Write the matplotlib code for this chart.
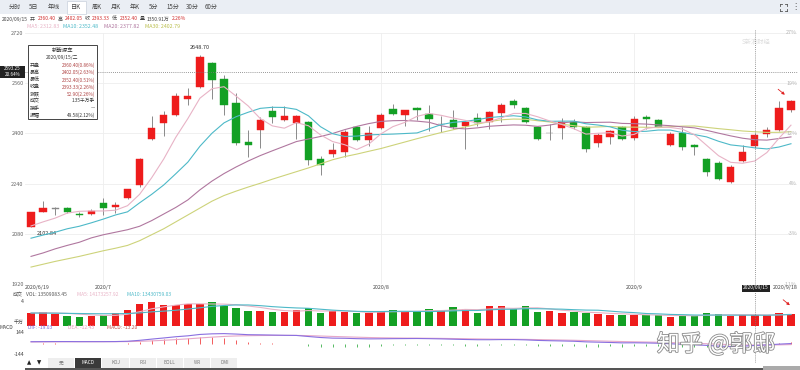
import matplotlib
matplotlib.use('Agg')
import matplotlib.pyplot as plt
import numpy as np
import pandas as pd
from matplotlib.patches import Rectangle, FancyArrowPatch
import matplotlib.patheffects as pe

plt.rcParams['font.family'] = ['Noto Sans CJK SC', 'DejaVu Sans']

# ---------------- data ----------------
dates = (['2020/6/%d' % d for d in [19, 22, 23, 24, 29, 30]] +
         ['2020/7/%d' % d for d in [1, 2, 3, 6, 7, 8, 9, 10, 13, 14, 15, 16, 17, 20, 21, 22, 23, 24, 27, 28, 29, 30, 31]] +
         ['2020/8/%d' % d for d in [3, 4, 5, 6, 7, 10, 11, 12, 13, 14, 17, 18, 19, 20, 21, 24, 25, 26, 27, 28, 31]] +
         ['2020/9/%d' % d for d in [1, 2, 3, 4, 7, 8, 9, 10, 11, 14, 15, 16, 17, 18]])

opens = [2103, 2150, 2160, 2162, 2143, 2143, 2177, 2164, 2193, 2236,
         2381, 2434, 2460, 2510, 2548, 2624, 2573, 2497, 2372, 2410,
         2471, 2444, 2434, 2436, 2317, 2334, 2341, 2420, 2378, 2418,
         2479, 2459, 2482, 2463, 2430, 2444, 2425, 2450, 2437, 2465,
         2502, 2481, 2421, 2400, 2418, 2436, 2420, 2370, 2388, 2420,
         2384, 2453, 2442, 2363, 2402, 2363, 2317, 2305, 2245, 2311,
         2360.40, 2398, 2410, 2476]
highs = [2150, 2183, 2166, 2165, 2148, 2158, 2193, 2180, 2224, 2323,
         2455, 2470, 2530, 2545, 2648.70, 2628, 2587, 2530, 2410, 2453,
         2486, 2488, 2460, 2440, 2328, 2368, 2410, 2422, 2423, 2465,
         2494, 2476, 2485, 2490, 2457, 2476, 2440, 2466, 2470, 2496,
         2511, 2483, 2424, 2431, 2450, 2446, 2425, 2402, 2412, 2424,
         2457, 2458, 2446, 2405, 2420, 2365, 2323, 2312, 2298, 2362,
         2402.05, 2420, 2502, 2506]
lows = [2102.84, 2148, 2140, 2147, 2134, 2140, 2140, 2145, 2190, 2230,
        2378, 2391, 2455, 2490, 2545, 2510, 2460, 2362, 2326, 2355,
        2434, 2440, 2383, 2300, 2267, 2326, 2326, 2377, 2360, 2413,
        2460, 2423, 2442, 2407, 2404, 2413, 2349, 2424, 2413, 2436,
        2480, 2432, 2378, 2378, 2381, 2413, 2340, 2358, 2365, 2380,
        2380, 2415, 2419, 2360, 2346, 2330, 2264, 2250, 2243, 2309,
        2352.40, 2390, 2408, 2467]
closes = [2148, 2161, 2160, 2150, 2139, 2154, 2161, 2172, 2222, 2320,
          2418, 2460, 2518, 2520, 2645, 2569, 2492, 2368, 2364, 2444,
          2452, 2455, 2457, 2314, 2298, 2346, 2405, 2380, 2400, 2460,
          2463, 2473, 2476, 2446, 2430, 2420, 2436, 2434, 2467, 2492,
          2489, 2436, 2381, 2400, 2436, 2421, 2351, 2394, 2409, 2383,
          2447, 2445, 2421, 2399, 2356, 2357, 2278, 2254, 2294, 2341,
          2393.33, 2412, 2481, 2504]
# volume in 千万手
volumes = [1.70, 1.77, 1.57, 1.27, 1.19, 1.23, 1.44, 1.61, 1.99, 2.75,
           3.09, 2.66, 2.71, 2.78, 2.78, 3.00, 2.58, 2.33, 1.95, 1.90,
           1.82, 1.73, 1.99, 2.33, 1.61, 1.86, 1.73, 1.65, 1.70, 1.90,
           2.08, 1.77, 1.86, 2.11, 1.95, 2.37, 2.20, 1.70, 2.53, 2.53,
           2.20, 2.49, 1.77, 1.86, 1.65, 1.73, 1.70, 1.52, 1.39, 1.39,
           1.44, 1.35, 1.35, 1.14, 1.35, 1.27, 1.65, 1.57, 1.23, 1.39,
           1.35, 1.39, 1.70, 1.57]
ma5_head = [2105, 2118, 2130, 2146]
ma10_head = [2066, 2076, 2085, 2096, 2104, 2115, 2127, 2140, 2150]
ma20_head = [2008, 2019, 2032, 2043, 2053, 2067, 2077, 2085, 2093, 2104,
             2122, 2143, 2164, 2188, 2220, 2248, 2272, 2293, 2312]
ma30_head = [1974, 1983, 1992, 2000, 2008, 2017, 2026, 2034, 2043, 2058,
             2077, 2096, 2118, 2140, 2162, 2184, 2202, 2216, 2229, 2241,
             2254, 2266, 2278, 2290, 2303, 2316, 2326, 2334, 2343]
vol_ma5_head = [1.66, 1.68, 1.66, 1.60]
vol_ma10_head = [1.64, 1.63, 1.62, 1.60, 1.58, 1.56, 1.55, 1.56, 1.58]
dif = [30, 31, 32, 32, 31, 31, 31, 32, 36,
       48, 64, 79, 95, 107, 125, 133, 136,
       130, 122, 120, 117, 114, 112, 98, 85,
       77, 75, 70, 67, 68, 70, 71, 72,
       70, 67, 63, 59, 56, 56, 58, 58,
       54, 47, 43, 40,
       36, 28, 24, 20, 15, 16, 14, 10, 3, -4, -10, -18, -28, -33, -29, -19.03, -12, -2, 6]
dea_start = 26

price_ticks = [1920, 2080, 2240, 2400, 2560, 2720]
pct_labels = ['-11%', '-3%', '4%', '12%', '19%', '27%']
month_ticks = {6: '2020/7', 29: '2020/8', 50: '2020/9'}
cursor_idx = 60

# ---------------- derived ----------------
n = len(closes)
xs = np.arange(n)
cs = pd.Series(closes, dtype=float)
def ma(series, w, head):
    m = series.rolling(w).mean().to_numpy()
    m[:len(head)] = head
    return m
ma5 = ma(cs, 5, ma5_head)
ma10 = ma(cs, 10, ma10_head)
ma20 = ma(cs, 20, ma20_head)
ma30 = ma(cs, 30, ma30_head)
vs = pd.Series(volumes, dtype=float)
vma5 = ma(vs, 5, vol_ma5_head)
vma10 = ma(vs, 10, vol_ma10_head)
dea = []
d = dea_start
for v in dif:
    d = d * 0.8 + v * 0.2
    dea.append(d)
dea = np.array(dea)
hist = 2 * (np.array(dif) - dea)

RED = '#ee1c1c'
GREEN = '#13a024'
C_MA5 = '#e8b3c6'
C_MA10 = '#4db9c8'
C_MA20 = '#b0779f'
C_MA30 = '#cdd37a'

W, H = 800, 370
fig = plt.figure(figsize=(8, 3.7), dpi=100)
fig.patch.set_facecolor('white')
renderer = fig.canvas.get_renderer()

def add_ax(x0, y0, x1, y1):
    return fig.add_axes([x0 / W, 1 - y1 / H, (x1 - x0) / W, (y1 - y0) / H])
def T(x, y, s, **kw):
    kw.setdefault('fontsize', 4.3)
    kw.setdefault('va', 'center')
    return fig.text(x / W, 1 - y / H, s, **kw)
def R(x0, y0, x1, y1, **kw):
    r = Rectangle((x0 / W, 1 - y1 / H), (x1 - x0) / W, (y1 - y0) / H, transform=fig.transFigure, **kw)
    fig.patches.append(r)
    return r
def L(x0, y0, x1, y1, **kw):
    fig.add_artist(plt.Line2D([x0 / W, x1 / W], [1 - y0 / H, 1 - y1 / H], transform=fig.transFigure, **kw))
def seq(x, y, parts, fs, gap):
    for s, col in parts:
        t = T(x, y, s, ha='left', fontsize=fs, color=col)
        x += t.get_window_extent(renderer=renderer).width + gap

# ---------------- price panel ----------------
ax = add_ax(25, 33, 797, 284)
ax.set_xlim(-0.5, n - 0.5)
ax.set_ylim(price_ticks[0], price_ticks[-1])
for s in ax.spines.values():
    s.set_visible(False)
ax.set_xticks([])
ax.set_yticks(price_ticks)
ax.set_yticklabels([str(t) for t in price_ticks])
ax.tick_params(axis='y', length=0, labelsize=4.0, pad=1, colors='#666666')
for t in price_ticks:
    ax.axhline(t, color='#eeeeee', lw=0.6, zorder=0)
for i in month_ticks:
    ax.axvline(i, color='#eeeeee', lw=0.6, zorder=0)

o = np.array(opens); c = np.array(closes); h = np.array(highs); l = np.array(lows)
cols = [RED if cc > oo else (GREEN if cc < oo else '#888888') for oo, cc in zip(o, c)]
ax.vlines(xs, l, h, color='#8a8a8a', lw=0.7, zorder=2)
body_h = np.maximum(np.abs(c - o), 1.5)
ax.bar(xs, body_h, bottom=np.minimum(o, c), width=0.6, color=cols, edgecolor=cols, lw=0.3, zorder=3)

for m, col in [(ma30, C_MA30), (ma20, C_MA20), (ma10, C_MA10), (ma5, C_MA5)]:
    ax.plot(xs, m, color=col, lw=0.8, zorder=4)

imax = int(np.argmax(h)); imin = int(np.argmin(l))
ax.annotate('%.2f' % h[imax], (imax, h[imax]), xytext=(0, 4), textcoords='offset points',
            ha='center', va='bottom', fontsize=4.0, color='#333333')
ax.annotate('%.2f' % l[imin], (imin, l[imin]), xytext=(4, -3), textcoords='offset points',
            ha='left', va='top', fontsize=4.0, color='#333333')

# crosshair
cx = 31.03 + 12.06 * cursor_idx
L(cx, 30, cx, 362, color='#777777', lw=0.6, ls=(0, (1, 1.5)), zorder=10)
L(25, 72, 797, 72, color='#777777', lw=0.6, ls=(0, (1, 1.5)), zorder=10)

# right percent labels
for t, lab in zip(price_ticks, pct_labels):
    yy = 33 + (price_ticks[-1] - t) / (price_ticks[-1] - price_ticks[0]) * 251
    T(797, yy, lab, ha='right', color='#b5b5b5', fontsize=3.8)

# ---------------- volume panel ----------------
axv = add_ax(25, 294, 797, 326)
axv.set_xlim(-0.5, n - 0.5)
axv.set_ylim(0, 4.05)
axv.axis('off')
vcols = [RED if cc >= oo else GREEN for oo, cc in zip(o, c)]
axv.bar(xs, volumes, width=0.62, color=vcols, zorder=2)
axv.plot(xs, vma5, color=C_MA5, lw=0.8, zorder=3)
axv.plot(xs, vma10, color=C_MA10, lw=0.8, zorder=3)

# ---------------- MACD panel ----------------
axm = add_ax(25, 333, 797, 355)
axm.set_xlim(-0.5, n - 0.5)
axm.set_ylim(-144, 144)
axm.axis('off')
axm.vlines(xs, 0, hist, color=[RED if v > 0 else GREEN for v in hist], lw=0.5)
axm.plot(xs, dea, color='#e6a8c8', lw=0.8)
axm.plot(xs, dif, color='#8a6fe0', lw=0.8)

# ---------------- toolbar ----------------
R(0, 0, 800, 14, facecolor='#eaeef4', edgecolor='none', zorder=0)
R(67, 0.5, 86, 14, facecolor='white', edgecolor='#c8d0dc', lw=0.5, zorder=1)
tabs = [('分时', 15), ('5日', 34), ('年线', 54), ('日K', 76), ('周K', 97), ('月K', 116),
        ('年K', 135), ('5分', 154), ('15分', 173), ('30分', 192), ('60分', 211)]
for s, x in tabs:
    T(x, 7, s, ha='center', fontsize=4.4, color='#444444')
# fullscreen icon (four corner marks) and menu dots
ic = '#555555'
for sx in (-1, 1):
    for sy in (-1, 1):
        x0, y0 = 783 + sx * 3.5, 7 + sy * 3.5
        L(x0, y0, x0 - sx * 2, y0, color=ic, lw=0.6)
        L(x0, y0, x0, y0 - sy * 2, color=ic, lw=0.6)
T(795, 7, '⋮', ha='center', fontsize=6, color=ic, family=['DejaVu Sans'])

# info line
seq(2, 19, [('2020/09/15', '#444444'), ('开', '#444444'), ('2360.40', '#d23030'),
            ('高', '#444444'), ('2402.05', '#d23030'), ('收', '#444444'), ('2393.33', '#d23030'),
            ('低', '#444444'), ('2352.40', '#d23030'), ('量', '#444444'), ('1350.91万', '#444444'),
            ('2.26%', '#d23030')], 3.6, 2.2)
leg = [(27, 'MA5: 2312.83', C_MA5), (63, 'MA10: 2352.48', C_MA10),
       (104, 'MA20: 2377.82', C_MA20), (145, 'MA30: 2402.79', '#b9bd4a')]
for x, s, col in leg:
    T(x, 27, s, ha='left', fontsize=3.8, color=col)

# sina watermark
T(756, 42, 'S新浪财经', ha='center', fontsize=4.5, color='#dddddd')

# cursor price label
R(0, 66, 25, 78, facecolor='#222222', edgecolor='none', zorder=11)
T(12.5, 69, '2593.25', ha='center', fontsize=3.3, color='white', zorder=12)
T(12.5, 75, '20.64%', ha='center', fontsize=3.3, color='white', zorder=12)

# tooltip box
R(28, 45, 97, 119, facecolor='white', edgecolor='#444444', lw=0.7, zorder=11)
T(62.5, 50.5, '新能源车', ha='center', fontsize=3.9, color='#333333', zorder=12)
T(62.5, 57.5, '2020/09/15/二', ha='center', fontsize=3.5, color='#333333', zorder=12)
rows = [('开盘', '2360.40(0.86%)', '#b04545'), ('最高', '2402.05(2.63%)', '#b04545'),
        ('最低', '2352.40(0.51%)', '#b04545'), ('收盘', '2393.33(2.26%)', '#b04545'),
        ('涨跌', '52.90(2.26%)', '#b04545'), ('成交', '1.35千万手', '#333333'),
        ('换手', '—', '#333333'), ('振幅', '49.58(2.12%)', '#333333')]
for k, (a, b, col) in enumerate(rows):
    yy = 65.7 + k * 7.05
    T(30, yy, a, ha='left', fontsize=3.6, color='#333333', zorder=12)
    T(95, yy, b, ha='right', fontsize=3.4, color=col, zorder=12)

# date axis labels
T(25, 288, dates[0], ha='left', fontsize=3.8, color='#444444')
for i, s in month_ticks.items():
    T(31.03 + 12.06 * i, 288, s, ha='center', fontsize=3.8, color='#444444')
R(742, 284.5, 770, 291.5, facecolor='#222222', edgecolor='none', zorder=11)
T(756, 288, '2020/09/15', ha='center', fontsize=3.5, color='white', zorder=12)
T(798, 288, dates[-1], ha='right', fontsize=3.8, color='#444444')

# volume legend
seq(13, 295, [('成交', '#555555'), ('VOL: 13509083.45', '#555555')], 3.6, 3)
T(77, 295, 'MA5: 14173257.92', ha='left', fontsize=3.6, color=C_MA5)
T(127, 295, 'MA10: 13430759.03', ha='left', fontsize=3.6, color=C_MA10)
T(22, 301.5, '4', ha='center', fontsize=3.8, color='#444444')
T(19, 322, '千万', ha='center', fontsize=3.6, color='#444444')

# macd legend
T(0, 327.5, 'MACD', ha='left', fontsize=3.6, color='#444444')
T(28, 327.5, 'DIF: -19.03', ha='left', fontsize=3.6, color='#7a6ad8')
T(68, 327.5, 'DEA: -12.43', ha='left', fontsize=3.6, color='#e59abd')
T(107, 327.5, 'MACD: -13.20', ha='left', fontsize=3.6, color='#c0504d')
T(24, 333, '144', ha='right', fontsize=3.8, color='#444444')
T(24, 355, '-144', ha='right', fontsize=3.8, color='#444444')

# bottom tabs
T(29, 363, '▲', ha='center', fontsize=4.0, color='#222222', family=['DejaVu Sans'])
T(39, 363, '▼', ha='center', fontsize=4.0, color='#222222', family=['DejaVu Sans'])
btabs = ['无', 'MACD', 'KDJ', 'RSI', 'BOLL', 'WR', 'DMI']
for k, s in enumerate(btabs):
    x0 = 48 + k * 27.2
    sel = (s == 'MACD')
    R(x0, 358, x0 + 26.2, 367.5, facecolor='#3a3a3a' if sel else '#eeeeee', edgecolor='none', zorder=1)
    T(x0 + 13.1, 363, s, ha='center', fontsize=3.4, color='white' if sel else '#777777', zorder=2)
R(25, 368, 797, 370, facecolor='#555555', edgecolor='none', zorder=1)
R(763, 366, 800, 370, facecolor='#aaaaaa', edgecolor='none', zorder=2)

# red arrows
for (x0, y0, x1, y1) in [(776, 87.5, 787, 96.5), (781, 298, 792, 307)]:
    fig.add_artist(FancyArrowPatch((x0 / W, 1 - y0 / H), (x1 / W, 1 - y1 / H),
                   transform=fig.transFigure, arrowstyle='-|>', mutation_scale=4, color='#e02020', lw=0.6, zorder=12))

# zhihu watermark
T(716, 344, '知乎 @郭邸', ha='center', fontsize=16.5, color='white', zorder=12,
  path_effects=[pe.withStroke(linewidth=1.2, foreground='#8a8a8a')])

fig.savefig('out.png', dpi=100)
